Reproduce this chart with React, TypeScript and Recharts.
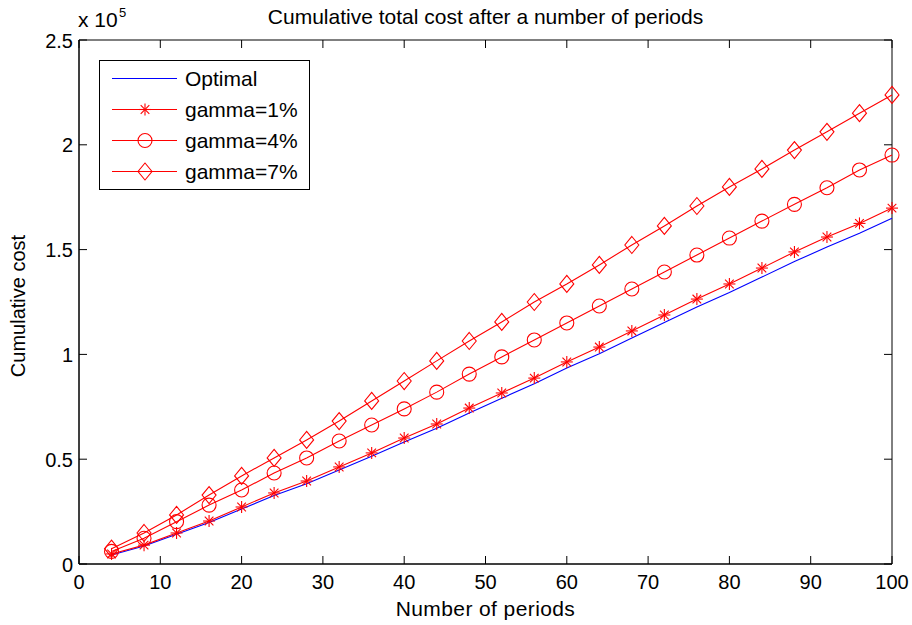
import React from "react";
import {
  LineChart,
  Line,
  XAxis,
  YAxis,
  Legend,
  ReferenceArea,
  Customized,
} from "recharts";

const periods = [4, 8, 12, 16, 20, 24, 28, 32, 36, 40, 44, 48, 52, 56, 60, 64, 68, 72, 76, 80, 84, 88, 92, 96, 100];
const optimal = [4300, 8600, 14200, 19800, 26200, 32700, 38300, 44800, 51400, 58200, 64800, 72100, 79100, 86000, 93500, 100300, 107800, 115200, 122600, 129500, 136900, 144300, 151200, 157800, 165000];
const gamma1 = [4800, 9000, 14800, 20500, 27200, 33900, 39600, 46300, 53000, 60100, 66800, 74400, 81600, 88700, 96400, 103500, 111200, 118800, 126400, 133600, 141200, 148900, 156000, 162500, 169800];
const gamma4 = [6000, 12300, 20200, 28100, 35300, 43400, 50600, 58700, 66300, 74000, 82000, 90600, 98800, 106900, 115000, 123100, 131200, 139300, 147400, 155500, 163600, 171600, 179500, 188000, 195100];
const gamma7 = [7300, 14800, 23400, 32900, 42000, 50600, 59200, 68200, 77800, 87300, 96900, 106400, 115500, 125000, 133600, 142700, 152200, 161300, 170800, 179900, 188500, 197500, 206200, 215100, 223800];
const xTicks = [0, 10, 20, 30, 40, 50, 60, 70, 80, 90, 100];
const yTicks = [0, 50000, 100000, 150000, 200000, 250000];

const data = periods.map((p, i) => ({
  x: p,
  optimal: optimal[i],
  g1: gamma1[i],
  g4: gamma4[i],
  g7: gamma7[i],
}));

const W = 912;
const H = 625;
const margin = { top: 40, right: 20, bottom: 31, left: 29 };
const X_AXIS_H = 30;
const Y_AXIS_W = 50;
const plotW = W - margin.left - margin.right - Y_AXIS_W;
const plotH = H - margin.top - margin.bottom - X_AXIS_H;
const font = '"Liberation Sans", Arial, Helvetica, sans-serif';
const TICK_FS = 20;
const FS = 21;
const RED = "#ff0000";
const BLUE = "#0000ff";
const TICK = 8;

function Asterisk({ cx, cy }: { cx: number; cy: number }) {
  const r = 6;
  const d = r * 0.72;
  return (
    <g stroke={RED} strokeWidth={1.1}>
      <line x1={cx - r} y1={cy} x2={cx + r} y2={cy} />
      <line x1={cx} y1={cy - r} x2={cx} y2={cy + r} />
      <line x1={cx - d} y1={cy - d} x2={cx + d} y2={cy + d} />
      <line x1={cx - d} y1={cy + d} x2={cx + d} y2={cy - d} />
    </g>
  );
}

function Circle({ cx, cy }: { cx: number; cy: number }) {
  return <circle cx={cx} cy={cy} r={7} fill="none" stroke={RED} strokeWidth={1.1} />;
}

function Diamond({ cx, cy }: { cx: number; cy: number }) {
  return (
    <polygon
      points={`${cx},${cy - 8.5} ${cx + 7},${cy} ${cx},${cy + 8.5} ${cx - 7},${cy}`}
      fill="none"
      stroke={RED}
      strokeWidth={1.1}
    />
  );
}

const dotFor = (Shape: typeof Circle) => (props: any) => (
  <Shape key={props.index} cx={props.cx} cy={props.cy} />
);

// inward ticks on bottom + top, label below
function XTick(props: any) {
  const { x, y, payload } = props;
  return (
    <g>
      <line x1={x} y1={y} x2={x} y2={y - TICK} stroke="#000" />
      <line x1={x} y1={y - plotH} x2={x} y2={y - plotH + TICK} stroke="#000" />
      <text x={x} y={y + 25} textAnchor="middle" fontSize={TICK_FS} fontFamily={font} fill="#000">
        {payload.value}
      </text>
    </g>
  );
}

// inward ticks on left + right, label to the left
function YTick(props: any) {
  const { x, y, payload } = props;
  return (
    <g>
      <line x1={x} y1={y} x2={x + TICK} y2={y} stroke="#000" />
      <line x1={x + plotW} y1={y} x2={x + plotW - TICK} y2={y} stroke="#000" />
      <text x={x - 6} y={y + 7.5} textAnchor="end" fontSize={TICK_FS} fontFamily={font} fill="#000">
        {payload.value / 100000}
      </text>
    </g>
  );
}

const legendItems = [
  { label: "Optimal", color: BLUE, Shape: null },
  { label: "gamma=1%", color: RED, Shape: Asterisk },
  { label: "gamma=4%", color: RED, Shape: Circle },
  { label: "gamma=7%", color: RED, Shape: Diamond },
];

function LegendBox() {
  return (
    <svg width={211} height={130} style={{ display: "block" }}>
      <rect x={0.5} y={0.5} width={210} height={129} fill="#fff" stroke="#000" />
      {legendItems.map((it, i) => {
        const cy = 18.5 + i * 31;
        const S = it.Shape;
        return (
          <g key={it.label}>
            <line x1={13} y1={cy} x2={78} y2={cy} stroke={it.color} strokeWidth={1.1} />
            {S && <S cx={46} cy={cy} />}
            <text x={86} y={cy + 7.5} fontSize={FS} fontFamily={font} fill="#000">
              {it.label}
            </text>
          </g>
        );
      })}
    </svg>
  );
}

function Annotations() {
  const left = margin.left + Y_AXIS_W;
  return (
    <g fontFamily={font} fill="#000">
      <text x={left + plotW / 2} y={24} textAnchor="middle" fontSize={FS}>
        Cumulative total cost after a number of periods
      </text>
      <text x={78} y={27} fontSize={FS}>
        x 10
      </text>
      <text x={119} y={17} fontSize={13}>
        5
      </text>
      <text x={left + plotW / 2} y={616} textAnchor="middle" fontSize={FS} letterSpacing={0.4}>
        Number of periods
      </text>
      <text
        transform={`translate(25, ${margin.top + plotH / 2 + 4}) rotate(-90)`}
        textAnchor="middle"
        fontSize={20}
      >
        Cumulative cost
      </text>
    </g>
  );
}

export default function App() {
  return (
    <div style={{ position: "absolute", left: 0, top: 0, width: W, height: H, background: "#fff" }}>
      <LineChart width={W} height={H} data={data} margin={margin}>
        <ReferenceArea
          x1={0}
          x2={100}
          y1={0}
          y2={250000}
          fill="none"
          fillOpacity={0}
          stroke="#000"
          strokeOpacity={1}
          ifOverflow="visible"
        />
        <XAxis
          type="number"
          dataKey="x"
          domain={[0, 100]}
          ticks={xTicks}
          height={X_AXIS_H}
          tickSize={0}
          tickMargin={0}
          tickLine={false}
          axisLine={{ stroke: "#000" }}
          tick={(p: any) => <XTick {...p} />}
          interval={0}
        />
        <YAxis
          type="number"
          domain={[0, 250000]}
          ticks={yTicks}
          width={Y_AXIS_W}
          tickSize={0}
          tickMargin={0}
          tickLine={false}
          axisLine={{ stroke: "#000" }}
          tick={(p: any) => <YTick {...p} />}
          interval={0}
        />
        <Legend
          layout="vertical"
          align="center"
          verticalAlign="middle"
          content={() => <LegendBox />}
          wrapperStyle={{ left: 99, top: 60, width: 211, height: 130 }}
        />
        <Line
          type="linear"
          dataKey="optimal"
          stroke={BLUE}
          strokeWidth={1.1}
          dot={false}
          isAnimationActive={false}
        />
        <Line
          type="linear"
          dataKey="g1"
          stroke={RED}
          strokeWidth={1.1}
          dot={dotFor(Asterisk)}
          isAnimationActive={false}
        />
        <Line
          type="linear"
          dataKey="g4"
          stroke={RED}
          strokeWidth={1.1}
          dot={dotFor(Circle)}
          isAnimationActive={false}
        />
        <Line
          type="linear"
          dataKey="g7"
          stroke={RED}
          strokeWidth={1.1}
          dot={dotFor(Diamond)}
          isAnimationActive={false}
        />
        <Customized component={Annotations} />
      </LineChart>
    </div>
  );
}
